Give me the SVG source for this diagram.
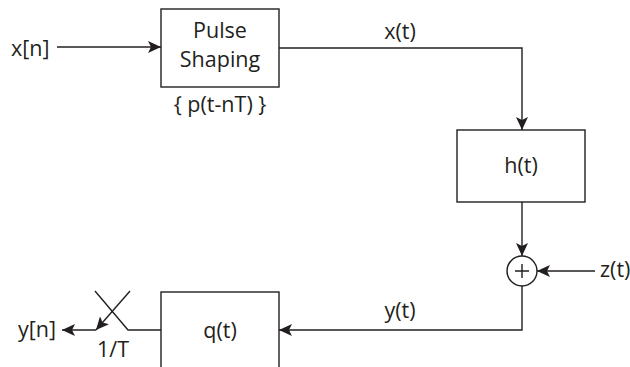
<svg xmlns="http://www.w3.org/2000/svg" width="630" height="367" viewBox="0 0 630 367">
<style>
text{font-family:"Open Sans","Liberation Sans",Arial,sans-serif;font-size:21.5px;fill:#231f20}
.c{text-anchor:middle}
.box{fill:#fff;stroke:#231f20;stroke-width:1.4}
.ln{fill:none;stroke:#231f20;stroke-width:1.4}
</style>
<defs>
<marker id="ah" viewBox="0 0 13 12" refX="13" refY="6" markerWidth="13" markerHeight="12" markerUnits="userSpaceOnUse" orient="auto">
<path d="M0,0 L13,6 L0,12 L3,6 Z" fill="#231f20"/>
</marker>
</defs>
<rect width="630" height="367" fill="#fff"/>
<g id="connectors">
<line class="ln" x1="57" y1="47" x2="161" y2="47" marker-end="url(#ah)"/>
<polyline class="ln" points="279,48 522,48 522,130" marker-end="url(#ah)"/>
<line class="ln" x1="522" y1="202" x2="522" y2="256" marker-end="url(#ah)"/>
<line class="ln" x1="595" y1="271" x2="537" y2="271" marker-end="url(#ah)"/>
<polyline class="ln" points="522,286 522,330 279,330" marker-end="url(#ah)"/>
<polyline class="ln" points="161,330 128,330 95,291"/>
<line class="ln" x1="130" y1="291" x2="96" y2="330" marker-end="url(#ah)"/>
<line class="ln" x1="96" y1="330" x2="62" y2="330" marker-end="url(#ah)"/>
<text class="c" x="400" y="39">x(t)</text>
<text class="c" x="400" y="318">y(t)</text>
<text x="600" y="277">z(t)</text>
<text x="11" y="56">x[n]</text>
<text x="18" y="337">y[n]</text>
<text class="c" x="113" y="357">1/T</text>
</g>
<g id="pulse">
<rect class="box" x="161" y="9" width="118" height="78"/>
<text class="c" x="220" y="38">Pulse</text>
<text class="c" x="220" y="66.5">Shaping</text>
<text class="c" x="220" y="112">{ p(t-nT) }</text>
</g>
<g id="h">
<rect class="box" x="457" y="130" width="128" height="72"/>
<text class="c" x="521" y="173">h(t)</text>
</g>
<g id="sum">
<circle cx="522" cy="271" r="15" fill="#fff" stroke="#231f20" stroke-width="1.4"/>
<path class="ln" d="M515,271 H529 M522,264 V278" stroke-width="1"/>
</g>
<g id="q">
<rect class="box" x="161" y="292" width="118" height="78"/>
<text class="c" x="220" y="338">q(t)</text>
</g>
</svg>
